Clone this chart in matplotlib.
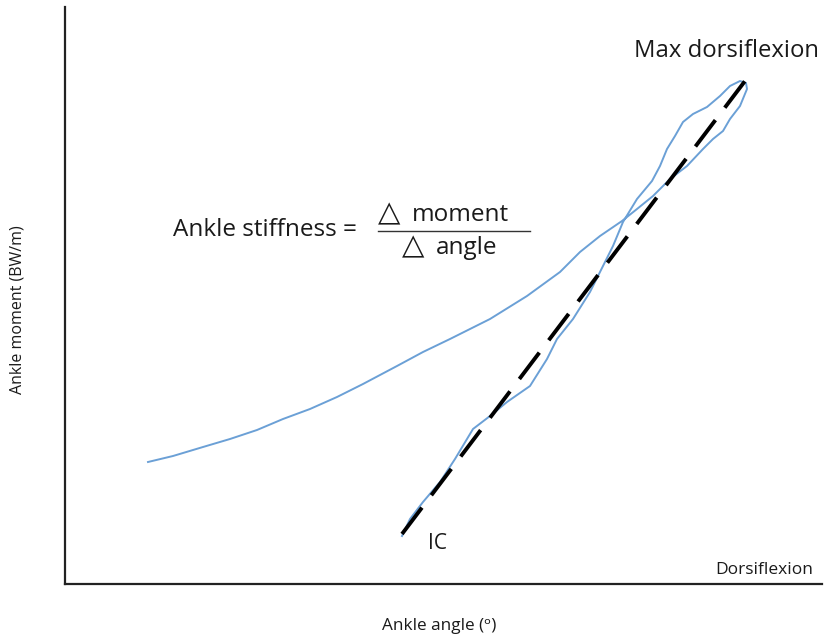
import matplotlib.pyplot as plt

plt.rcParams['font.family'] = ['Open Sans', 'DejaVu Sans']

# ankle angle / moment loop over stance (arbitrary units), from IC up to max dorsiflexion and back
angle = [337, 345, 358, 375, 390, 408, 425, 442, 465, 482, 492, 508, 525, 535, 548, 558,
         572, 587, 595, 602, 610, 618, 628, 642, 655, 665, 675, 681, 682, 675, 665, 658,
         648, 638, 622, 605, 588, 572, 557, 535, 515, 495, 462, 425, 385, 358, 332, 298,
         272, 245, 218, 192, 165, 138, 108, 83]
moment = [48, 65, 82, 102, 125, 155, 168, 182, 198, 225, 245, 265, 292, 312, 338, 362,
          385, 403, 418, 435, 448, 462, 470, 477, 488, 498, 503, 501, 495, 478, 465, 453,
          445, 435, 418, 405, 388, 375, 363, 348, 332, 312, 288, 265, 245, 232, 218, 200,
          187, 175, 165, 154, 145, 137, 128, 122]

# stiffness line from initial contact to max dorsiflexion
fit_angle = [337, 680]
fit_moment = [50, 503]

fig = plt.figure(figsize=(8.24, 6.39), dpi=100)
ax = fig.add_axes([65 / 824, 55 / 639, 757 / 824, 577 / 639])

ax.plot(angle, moment, color='#6ba0d6', lw=1.4, solid_joinstyle='round')
ax.plot(fit_angle, fit_moment, color='black', lw=2.8, dashes=(8.5, 4), dash_capstyle='butt')

ax.set_xlim(0, 757)
ax.set_ylim(0, 577)
ax.set_xticks([])
ax.set_yticks([])
for s in ['top', 'right']:
    ax.spines[s].set_visible(False)
for s in ['left', 'bottom']:
    ax.spines[s].set_linewidth(1.6)
    ax.spines[s].set_color('#222222')

txt = '#1a1a1a'
ax.text(661, 527, 'Max dorsiflexion', fontsize=17.2, ha='center', va='baseline', color=txt)
ax.text(363, 35, 'IC', fontsize=15, ha='left', va='baseline', color=txt)
ax.text(748, 10, 'Dorsiflexion', fontsize=12.5, ha='right', va='baseline', color=txt)

# stiffness formula
ax.text(292, 348, 'Ankle stiffness =', fontsize=17.5, ha='right', va='baseline', color=txt)
ax.text(313, 363, '\u25b3', fontsize=21, ha='left', va='baseline', color=txt, family='DejaVu Sans')
ax.text(347, 363, 'moment', fontsize=17.5, ha='left', va='baseline', color=txt)
ax.text(337, 330, '\u25b3', fontsize=21, ha='left', va='baseline', color=txt, family='DejaVu Sans')
ax.text(371, 330, 'angle', fontsize=17.5, ha='left', va='baseline', color=txt)
ax.plot([313, 465], [353, 353], color='#333333', lw=1.0)

fig.text(439 / 824, 1 - 630 / 639, 'Ankle angle (\u1d52)', fontsize=12.3, ha='center',
         va='baseline', color=txt)
fig.text(18 / 824, 1 - 310 / 639, 'Ankle moment (BW/m)', fontsize=11.5, rotation=90,
         ha='center', va='center', color=txt)

fig.savefig('out.png', dpi=100)
